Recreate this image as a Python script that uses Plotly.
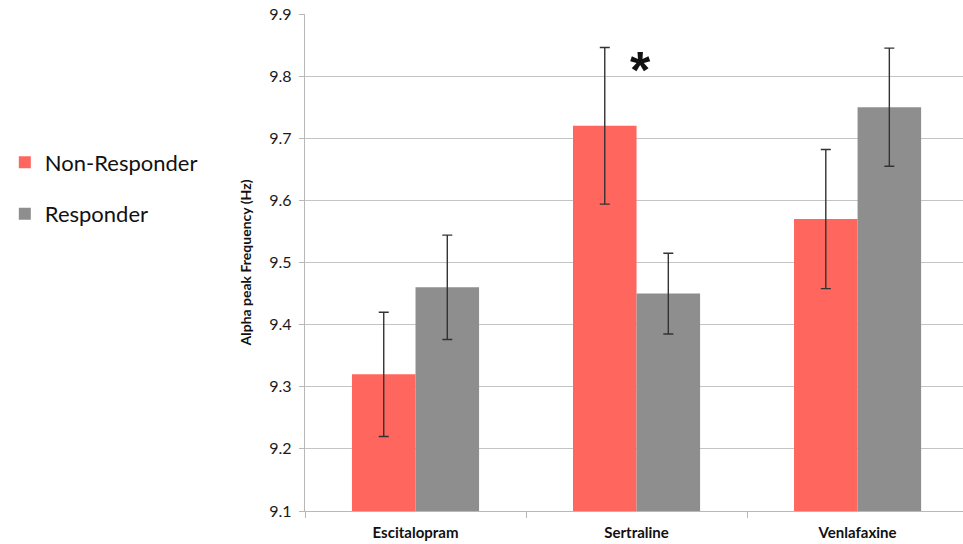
import plotly.graph_objects as go

# Mean alpha peak frequency (Hz) per drug, split by treatment response
drugs = ["Escitalopram", "Sertraline", "Venlafaxine"]
non_responder = [9.32, 9.72, 9.57]
non_responder_err = [0.100, 0.126, 0.112]
responder = [9.46, 9.45, 9.75]
responder_err = [0.084, 0.065, 0.095]
y_ticks = [9.1, 9.2, 9.3, 9.4, 9.5, 9.6, 9.7, 9.8, 9.9]

RED = "#FF665E"
GRAY = "#8E8E8E"
FONT = "Lato, 'Open Sans', Arial, sans-serif"

fig = go.Figure()
fig.add_trace(go.Bar(
    name="Non-Responder", x=drugs, y=non_responder,
    marker=dict(color=RED, line=dict(width=0)),
    error_y=dict(type="data", array=non_responder_err, color="#333333",
                 thickness=1.4, width=5),
    legendgroup="nr",
))
fig.add_trace(go.Bar(
    name="Responder", x=drugs, y=responder,
    marker=dict(color=GRAY, line=dict(width=0)),
    error_y=dict(type="data", array=responder_err, color="#333333",
                 thickness=1.4, width=5),
    legendgroup="r",
))

# Significance marker above the Sertraline non-responder bar
fig.add_annotation(x=1, y=9.81, xref="x", yref="y", text="<b>*</b>",
                   showarrow=False, xshift=4,
                   font=dict(size=52, color="#111111", family="Arial"))

fig.update_layout(
    width=963, height=544,
    margin=dict(l=305, r=0, t=14, b=33),
    paper_bgcolor="white", plot_bgcolor="white",
    barmode="group", bargap=0.425, bargroupgap=0,
    font=dict(family=FONT, color="#111111"),
    legend=dict(
        xref="container", yref="container", x=0.005, y=0.74,
        xanchor="left", yanchor="top",
        font=dict(size=22, family=FONT, color="#111111"),
        tracegroupgap=20, itemwidth=30,
        bgcolor="rgba(0,0,0,0)",
    ),
    showlegend=True,
)

fig.update_yaxes(
    range=[9.1, 9.9], tickvals=y_ticks, ticktext=[f"{v:.1f}" for v in y_ticks],
    showgrid=True, gridcolor="#C4C4C4", gridwidth=1.3,
    showline=True, linecolor="#B8B8B8", linewidth=1.3,
    ticks="outside", ticklen=5, tickcolor="#B8B8B8",
    ticklabelstandoff=4,
    tickfont=dict(size=16, family=FONT, color="#1A1A1A"),
    title=dict(text="<b>Alpha peak Frequency (Hz)</b>",
               font=dict(size=14, family=FONT, color="#111111"), standoff=14),
    zeroline=False,
)
fig.update_xaxes(
    range=[-0.5, 2.477],
    showline=True, linecolor="#B8B8B8", linewidth=1.3,
    ticks="outside", tickson="boundaries", ticklen=6, tickcolor="#B8B8B8",
    ticklabelstandoff=8,
    tickfont=dict(size=15, family=FONT, color="#111111"),
    ticktext=[f"<b>{d}</b>" for d in drugs], tickvals=drugs,
    showgrid=False,
)

fig.write_html("out.html")
